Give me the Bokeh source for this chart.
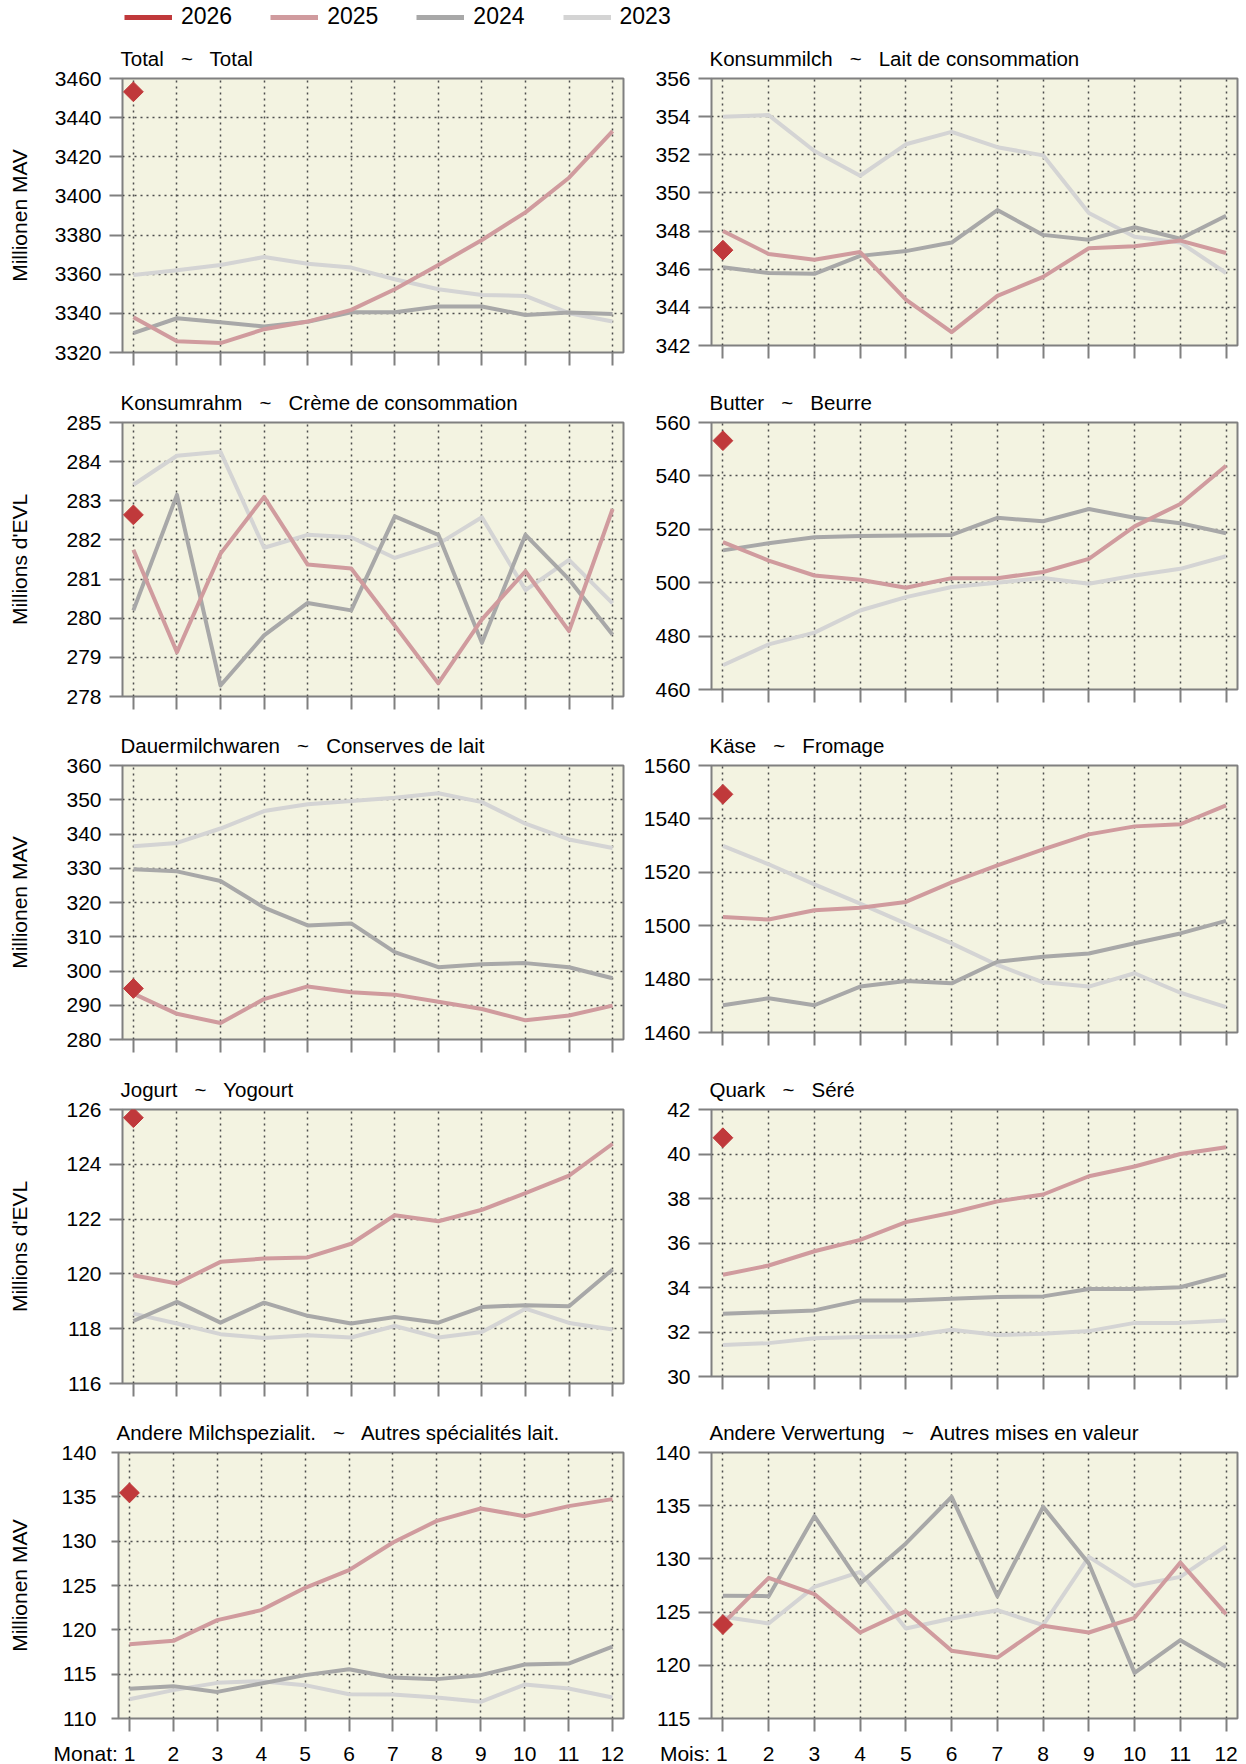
import math
from bokeh.plotting import figure
from bokeh.models import Range1d, FixedTicker, Legend, LegendItem
from bokeh.layouts import column, row
from bokeh.embed import file_html
from bokeh.resources import INLINE

# ---------------- data ----------------
months = [1, 2, 3, 4, 5, 6, 7, 8, 9, 10, 11, 12]
year_labels = ["2026", "2025", "2024", "2023"]

total_2023 = [3359.6, 3362.0, 3364.7, 3368.8, 3365.3, 3363.4, 3357.4, 3352.3, 3349.4, 3348.9, 3340.1, 3335.8]
total_2024 = [3329.9, 3337.5, 3335.5, 3333.3, 3335.7, 3340.6, 3340.6, 3343.5, 3343.5, 3339.2, 3340.4, 3339.7]
total_2025 = [3338.0, 3325.8, 3324.8, 3331.9, 3335.8, 3341.8, 3352.3, 3364.7, 3377.5, 3391.6, 3409.3, 3433.1]
total_2026 = [3453.2]

milk_2023 = [354.0, 354.08, 352.2, 350.9, 352.55, 353.2, 352.4, 351.97, 348.95, 347.7, 347.4, 345.8]
milk_2024 = [346.1, 345.8, 345.76, 346.7, 346.95, 347.4, 349.1, 347.8, 347.55, 348.2, 347.6, 348.8]
milk_2025 = [348.0, 346.8, 346.5, 346.9, 344.4, 342.7, 344.6, 345.6, 347.1, 347.2, 347.5, 346.85]
milk_2026 = [347.0]

cream_2023 = [283.41, 284.15, 284.25, 281.8, 282.13, 282.07, 281.54, 281.9, 282.58, 280.72, 281.49, 280.38]
cream_2024 = [280.2, 283.15, 278.28, 279.56, 280.39, 280.2, 282.6, 282.13, 279.37, 282.13, 280.99, 279.58]
cream_2025 = [281.75, 279.13, 281.65, 283.1, 281.37, 281.27, 279.81, 278.34, 279.97, 281.2, 279.67, 282.79]
cream_2026 = [282.64]

butter_2023 = [469.1, 476.9, 481.3, 489.6, 494.6, 498.4, 500.0, 501.8, 499.6, 502.7, 505.2, 509.9]
butter_2024 = [512.1, 514.8, 517.0, 517.5, 517.7, 517.9, 524.3, 523.0, 527.6, 524.3, 522.3, 518.5]
butter_2025 = [515.2, 508.3, 502.7, 501.1, 498.1, 501.7, 501.7, 504.0, 508.9, 521.1, 529.5, 543.8]
butter_2026 = [553.2]

cons_2023 = [336.4, 337.4, 341.6, 346.7, 348.7, 349.6, 350.6, 351.9, 349.3, 343.0, 338.4, 335.9]
cons_2024 = [329.7, 329.1, 326.3, 318.5, 313.3, 313.9, 305.5, 301.1, 302.0, 302.3, 301.1, 297.9]
cons_2025 = [293.4, 287.5, 284.8, 291.8, 295.5, 293.8, 293.1, 291.0, 288.9, 285.6, 287.0, 289.9]
cons_2026 = [294.9]

cheese_2023 = [1529.9, 1523.0, 1515.5, 1508.3, 1500.8, 1493.4, 1485.3, 1478.8, 1477.2, 1482.2, 1474.9, 1469.5]
cheese_2024 = [1470.2, 1472.8, 1470.2, 1477.2, 1479.3, 1478.4, 1486.5, 1488.4, 1489.6, 1493.4, 1497.1, 1501.8]
cheese_2025 = [1503.3, 1502.3, 1505.8, 1506.7, 1508.9, 1516.2, 1522.6, 1528.6, 1534.2, 1537.2, 1538.0, 1545.1]
cheese_2026 = [1549.2]

yog_2023 = [118.55, 118.19, 117.8, 117.66, 117.76, 117.68, 118.1, 117.68, 117.88, 118.73, 118.21, 117.97]
yog_2024 = [118.28, 118.98, 118.22, 118.95, 118.47, 118.19, 118.43, 118.22, 118.79, 118.86, 118.82, 120.16]
yog_2025 = [119.95, 119.65, 120.44, 120.56, 120.6, 121.1, 122.14, 121.92, 122.34, 122.95, 123.59, 124.75]
yog_2026 = [125.7]

quark_2023 = [31.42, 31.5, 31.72, 31.77, 31.8, 32.1, 31.87, 31.92, 32.04, 32.41, 32.41, 32.52]
quark_2024 = [32.82, 32.89, 32.97, 33.42, 33.42, 33.49, 33.57, 33.6, 33.93, 33.93, 34.01, 34.57]
quark_2025 = [34.57, 34.99, 35.63, 36.14, 36.94, 37.36, 37.87, 38.18, 39.0, 39.44, 40.0, 40.3]
quark_2026 = [40.73]

spec_2023 = [112.18, 113.2, 114.02, 114.21, 113.76, 112.74, 112.71, 112.37, 111.88, 113.83, 113.38, 112.37]
spec_2024 = [113.35, 113.65, 113.0, 113.95, 114.89, 115.56, 114.62, 114.44, 114.89, 116.09, 116.2, 118.1]
spec_2025 = [118.38, 118.76, 121.09, 122.22, 124.74, 126.73, 129.85, 132.29, 133.68, 132.82, 133.95, 134.74]
spec_2026 = [135.45]

other_2023 = [124.56, 123.93, 127.37, 128.78, 123.46, 124.4, 125.18, 123.77, 130.19, 127.47, 128.31, 131.23]
other_2024 = [126.53, 126.5, 134.02, 127.69, 131.45, 135.83, 126.5, 134.89, 129.57, 119.29, 122.36, 119.86]
other_2025 = [123.93, 128.22, 126.69, 123.08, 125.09, 121.36, 120.73, 123.71, 123.08, 124.46, 129.66, 124.81]
other_2026 = [123.83]

total_ticks = [3320, 3340, 3360, 3380, 3400, 3420, 3440, 3460]
milk_ticks = [342, 344, 346, 348, 350, 352, 354, 356]
cream_ticks = [278, 279, 280, 281, 282, 283, 284, 285]
butter_ticks = [460, 480, 500, 520, 540, 560]
cons_ticks = [280, 290, 300, 310, 320, 330, 340, 350, 360]
cheese_ticks = [1460, 1480, 1500, 1520, 1540, 1560]
yog_ticks = [116, 118, 120, 122, 124, 126]
quark_ticks = [30, 32, 34, 36, 38, 40, 42]
spec_ticks = [110, 115, 120, 125, 130, 135, 140]
other_ticks = [115, 120, 125, 130, 135, 140]

titles = [
    ("Total", "Total"),
    ("Konsummilch", "Lait de consommation"),
    ("Konsumrahm", "Crème de consommation"),
    ("Butter", "Beurre"),
    ("Dauermilchwaren", "Conserves de lait"),
    ("Käse", "Fromage"),
    ("Jogurt", "Yogourt"),
    ("Quark", "Séré"),
    ("Andere Milchspezialit.", "Autres spécialités lait."),
    ("Andere Verwertung", "Autres mises en valeur"),
]
row_ylabels = ["Millionen MAV", "Millions d'EVL", "Millionen MAV", "Millions d'EVL", "Millionen MAV"]
month_word = ["Monat:", "Mois:"]

series = [
    (total_2023, total_2024, total_2025, total_2026, total_ticks),
    (milk_2023, milk_2024, milk_2025, milk_2026, milk_ticks),
    (cream_2023, cream_2024, cream_2025, cream_2026, cream_ticks),
    (butter_2023, butter_2024, butter_2025, butter_2026, butter_ticks),
    (cons_2023, cons_2024, cons_2025, cons_2026, cons_ticks),
    (cheese_2023, cheese_2024, cheese_2025, cheese_2026, cheese_ticks),
    (yog_2023, yog_2024, yog_2025, yog_2026, yog_ticks),
    (quark_2023, quark_2024, quark_2025, quark_2026, quark_ticks),
    (spec_2023, spec_2024, spec_2025, spec_2026, spec_ticks),
    (other_2023, other_2024, other_2025, other_2026, other_ticks),
]

# ---------------- style ----------------
FONT = "Liberation Sans"
C2026 = "#c0393b"
C2025 = "#d09b9e"
C2024 = "#a8a8a8"
C2023 = "#d4d4d4"
year_colors = {"2026": C2026, "2025": C2025, "2024": C2024, "2023": C2023}
BG = "#f3f3e1"
FRAME = "#808080"
GRID = "#4d4d4d"
LW = 4
NBSP = "\u00a0"

LEG_H = 30
ROW_H = [344, 344, 343, 344, 359]
BORDER_TOP = [48, 48, 47, 48, 47]


def make_panel(idx, rowi, col):
    s23, s24, s25, s26, ticks = series[idx]
    last = rowi == 4
    left = col == 0
    if left:
        frame_w = 505 if last else 501
        bl = 118 if last else 122
        br = 15
    else:
        frame_w = 526
        bl = 73
        br = 9
    if last:
        frame_h = 266
    else:
        frame_h = 274 if left else 267
    bt = BORDER_TOP[rowi]
    bb = ROW_H[rowi] - bt - frame_h

    p = figure(frame_width=frame_w, frame_height=frame_h,
               min_border_left=bl, min_border_right=br,
               min_border_top=bt, min_border_bottom=bb,
               x_range=Range1d(0.75, 12.25), y_range=Range1d(ticks[0], ticks[-1]),
               output_backend="svg", toolbar_location=None)
    p.background_fill_color = BG
    p.border_fill_color = "white"
    p.outline_line_color = FRAME
    p.outline_line_width = 2

    de, fr = titles[idx]
    p.title.text = de + " " + NBSP + " ~ " + NBSP + " " + fr
    p.title.align = "left"
    p.title.offset = -2
    p.title.text_font = FONT
    p.title.text_font_size = "20.5px"
    p.title.text_font_style = "normal"
    p.title.text_color = "black"
    p.title.standoff = 18

    # grid
    p.xgrid.ticker = FixedTicker(ticks=months)
    p.ygrid.ticker = FixedTicker(ticks=ticks)
    for g in (p.xgrid, p.ygrid):
        g.grid_line_color = GRID
        g.grid_line_dash = "2 4"
        g.grid_line_width = 1.5

    # y axis
    ya = p.yaxis[0]
    ya.ticker = FixedTicker(ticks=ticks)
    ya.axis_line_color = None
    ya.major_tick_line_color = FRAME
    ya.major_tick_line_width = 2
    ya.minor_tick_line_color = None
    ya.major_tick_in = 0
    ya.major_tick_out = 7 if (last and left) else 13
    ya.major_label_standoff = 15 if (last and left) else 8
    ya.major_label_text_font = FONT
    ya.major_label_text_font_size = "21px"
    ya.major_label_text_color = "black"
    if left:
        ya.axis_label = row_ylabels[rowi]
        ya.axis_label_text_font = FONT
        ya.axis_label_text_font_size = "21px"
        ya.axis_label_text_font_style = "normal"
        ya.axis_label_text_color = "black"
        if last:
            ya.axis_label_standoff = 27
        elif rowi == 0:
            ya.axis_label_standoff = 21
        else:
            ya.axis_label_standoff = 32

    # x axis
    xa = p.xaxis[0]
    xa.ticker = FixedTicker(ticks=months)
    xa.axis_line_color = None
    xa.major_tick_line_color = FRAME
    xa.major_tick_line_width = 2
    xa.minor_tick_line_color = None
    xa.major_tick_in = 0
    xa.major_tick_out = 13
    if last:
        xa.major_label_standoff = 10
        xa.major_label_text_font = FONT
        xa.major_label_text_font_size = "21px"
        xa.major_label_text_color = "black"
        # first label carries the "Monat:" / "Mois:" prefix; trailing
        # no-break spaces balance the centred label so "1" sits on its tick
        pad = NBSP * (12 if col == 0 else 10)
        xa.major_label_overrides = {1: month_word[col] + " 1" + pad}
    else:
        xa.major_label_text_color = None
        xa.major_label_text_font_size = "0px"
        xa.major_label_standoff = 0

    # data
    p.line(months, s23, line_color=C2023, line_width=LW, line_join="round")
    p.line(months, s24, line_color=C2024, line_width=LW, line_join="round")
    p.line(months, s25, line_color=C2025, line_width=LW, line_join="round")
    p.scatter(months[:len(s26)], s26, marker="square", angle=math.pi / 4,
              size=14, fill_color=C2026, line_color=C2026)
    return p


# legend figure (keys drawn from the Total series, renderers hidden)
leg = figure(width=1246, height=LEG_H, x_range=Range1d(0, 1), y_range=Range1d(0, 1),
             min_border=0, output_backend="svg", toolbar_location=None)
leg.axis.visible = False
leg.grid.visible = False
leg.outline_line_color = None
legend_series = {"2026": total_2026, "2025": total_2025, "2024": total_2024, "2023": total_2023}
items = []
for yl in year_labels:
    vals = legend_series[yl]
    r = leg.line(x=months[:len(vals)], y=vals, line_color=year_colors[yl], line_width=5)
    r.visible = False
    items.append(LegendItem(label=yl, renderers=[r]))
legend = Legend(items=items, orientation="horizontal", location=(124, 0),
                glyph_width=48, glyph_height=20, label_standoff=9, spacing=38,
                padding=0, margin=0, border_line_color=None,
                background_fill_alpha=0, label_text_font=FONT,
                label_text_font_size="23px", label_text_color="black",
                click_policy="none")
leg.add_layout(legend)

rows = [leg]
for ri in range(5):
    pl = make_panel(2 * ri, ri, 0)
    pr = make_panel(2 * ri + 1, ri, 1)
    rows.append(row(pl, pr))

layout = column(*rows)
open("out.html", "w").write(file_html(layout, INLINE))
